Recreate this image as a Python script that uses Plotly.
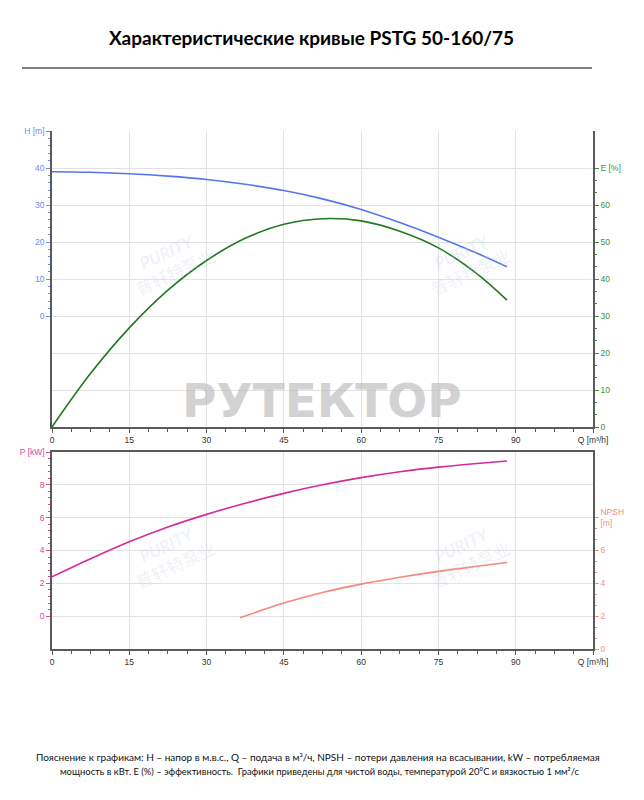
import plotly.graph_objects as go

# ---------------- data ----------------
q_he = [0, 7.5, 15, 22.5, 30, 37.5, 45, 52.5, 60, 67.5, 75, 82.5, 88.3]          # m3/h
head_m = [39.0, 38.85, 38.45, 37.8, 36.9, 35.6, 33.9, 31.65, 28.8, 25.25, 21.3, 16.95, 13.3]
eff_pct = [0, 14.5, 26.8, 37.0, 45.0, 51.0, 54.8, 56.3, 55.7, 52.9, 48.4, 41.4, 34.3]

q_p = [0, 7.5, 15, 22.5, 30, 37.5, 45, 52.5, 60, 67.5, 75, 82.5, 88.3]
power_kw = [2.4, 3.5, 4.53, 5.43, 6.2, 6.88, 7.48, 8.0, 8.44, 8.8, 9.08, 9.3, 9.45]

q_npsh = [36.5, 45, 52.5, 60, 67.5, 75, 82.5, 88.3]
npsh_m = [1.9, 2.8, 3.44, 3.95, 4.37, 4.73, 5.04, 5.27]

q_m3h_ticks = [0, 15, 30, 45, 60, 75, 90]
q_ls_ticks = [0, 5, 10, 15, 20, 25]
h_ticks = [0, 10, 20, 30, 40]
e_ticks = [0, 10, 20, 30, 40, 50, 60]
p_ticks = [0, 2, 4, 6, 8]
npsh_ticks = [0, 2, 4, 6]

Q_MAX = 105  # m3/h

title_text = "Характеристические кривые PSTG 50-160/75"
note_line1 = "Пояснение к графикам: H – напор в м.в.с., Q – подача в м³/ч, NPSH – потери давления на всасывании, kW – потребляемая"
note_line2 = "мощность в кВт. E (%) – эффективность.  Графики приведены для чистой воды, температурой 20°C и вязкостью 1 мм²/с"

# ---------------- styling ----------------
W, H = 644, 800
def px(x): return x / W
def py(y): return 1 - y / H

C_H = "#5577ee"
C_E = "#1f7a1f"
C_P = "#d42a9a"
C_N = "#f7877a"
T_H = "#6a8af0"
T_E = "#3f9140"
T_P = "#d8479f"
T_N = "#f4907f"
AX = "#5a5a5a"
GRID = "#e2e2e2"
FS = 8.5
TF = dict(family="Liberation Sans", size=FS, color="#333333")

xdom = [px(52), px(593)]
top_dom = [py(427), py(131)]
bot_dom = [py(649), py(452)]

def frange(a, b, s):
    out = []
    v = a
    while v <= b + 1e-9:
        out.append(round(v, 6))
        v += s
    return out

fig = go.Figure()
fig.add_trace(go.Scatter(x=q_he, y=head_m, mode="lines", line=dict(color=C_H, width=1.6, shape="spline"),
                         xaxis="x", yaxis="y", showlegend=False))
fig.add_trace(go.Scatter(x=q_he, y=eff_pct, mode="lines", line=dict(color=C_E, width=1.6, shape="spline"),
                         xaxis="x", yaxis="y2", showlegend=False))
fig.add_trace(go.Scatter(x=q_p, y=power_kw, mode="lines", line=dict(color=C_P, width=1.6, shape="spline"),
                         xaxis="x3", yaxis="y3", showlegend=False))
fig.add_trace(go.Scatter(x=q_npsh, y=npsh_m, mode="lines", line=dict(color=C_N, width=1.6, shape="spline"),
                         xaxis="x3", yaxis="y4", showlegend=False))

common_x = dict(range=[0, Q_MAX], tickvals=q_m3h_ticks + [Q_MAX],
                ticktext=[str(v) for v in q_m3h_ticks] + ["Q [m³/h]"],
                showgrid=True, gridcolor=GRID, gridwidth=1, zeroline=False, automargin=False,
                ticks="outside", ticklen=4, tickwidth=1, tickcolor=AX,
                showline=True, linecolor=AX, linewidth=1.5, tickfont=TF,
                minor=dict(tickmode="array", tickvals=frange(0, Q_MAX, 3.75), ticks="outside",
                           ticklen=3, tickcolor=AX, showgrid=False))

fig.update_layout(
    width=W, height=H, margin=dict(l=0, r=0, t=0, b=0, pad=0),
    paper_bgcolor="white", plot_bgcolor="white",
    xaxis=dict(domain=xdom, anchor="y", **common_x),
    xaxis2=dict(domain=xdom, anchor="y", overlaying="x", side="top", automargin=False,
                range=[0, Q_MAX / 3.6], tickvals=q_ls_ticks + [Q_MAX / 3.6],
                ticktext=[str(v) for v in q_ls_ticks] + ["Q [L/s]"],
                showgrid=False, zeroline=False, ticks="outside", ticklen=4, tickcolor=AX,
                showline=True, linecolor=AX, linewidth=1.5, tickfont=TF,
                minor=dict(tickmode="array", tickvals=frange(0, Q_MAX / 3.6, 5 / 3), ticks="outside",
                           ticklen=3, tickcolor=AX, showgrid=False)),
    yaxis=dict(domain=top_dom, anchor="x", range=[-30, 50], automargin=False,
               tickvals=h_ticks + [50], ticktext=[str(v) for v in h_ticks] + ["H [m]"],
               showgrid=False, zeroline=False, ticks="outside", ticklen=4, tickcolor=T_H,
               showline=True, linecolor=AX, linewidth=1.5, tickfont=dict(family="Liberation Sans", size=FS, color=T_H),
               minor=dict(tickmode="array", tickvals=frange(0, 50, 2), ticks="outside",
                          ticklen=2, tickcolor=T_H, showgrid=False)),
    yaxis2=dict(domain=top_dom, anchor="x", overlaying="y", side="right", range=[0, 80], automargin=False,
                tickvals=e_ticks + [70], ticktext=[str(v) for v in e_ticks] + ["E [%]"],
                showgrid=True, gridcolor=GRID, zeroline=False, ticks="outside", ticklen=4, tickcolor=T_E,
                showline=True, linecolor=AX, linewidth=1.5, tickfont=dict(family="Liberation Sans", size=FS, color=T_E),
                minor=dict(tickmode="array", tickvals=frange(0, 70, 10 / 3), ticks="outside",
                           ticklen=2, tickcolor=T_E, showgrid=False)),
    xaxis3=dict(domain=xdom, anchor="y3", mirror=True, **common_x),
    yaxis3=dict(domain=bot_dom, anchor="x3", range=[-2, 10], automargin=False,
                tickvals=p_ticks + [10], ticktext=[str(v) for v in p_ticks] + ["P [kW]"],
                showgrid=True, gridcolor=GRID, zeroline=False, ticks="outside", ticklen=4, tickcolor=T_P,
                showline=True, linecolor=AX, linewidth=1.5, tickfont=dict(family="Liberation Sans", size=FS, color=T_P),
                minor=dict(tickmode="array", tickvals=frange(0, 10, 0.4), ticks="outside",
                           ticklen=2, tickcolor=T_P, showgrid=False)),
    yaxis4=dict(domain=bot_dom, anchor="x3", overlaying="y3", side="right", range=[0, 12], automargin=False,
                tickvals=npsh_ticks + [8], ticktext=[str(v) for v in npsh_ticks] + ["NPSH<br>[m]"],
                showgrid=False, zeroline=False, ticks="outside", ticklen=4, tickcolor=T_N,
                showline=True, linecolor=AX, linewidth=1.5, tickfont=dict(family="Liberation Sans", size=FS, color=T_N),
                minor=dict(tickmode="array", tickvals=frange(0, 8, 2 / 3), ticks="outside",
                           ticklen=2, tickcolor=T_N, showgrid=False)),
)

annotations = [
    dict(text="<b>" + title_text + "</b>", x=px(311), y=py(37), xref="paper", yref="paper",
         showarrow=False, font=dict(family="Lato", size=19, color="black"), xanchor="center", yanchor="middle"),
    dict(text=note_line1, x=px(318), y=py(757), xref="paper", yref="paper", showarrow=False,
         font=dict(family="Lato", size=10, color="#111111"), xanchor="center", yanchor="middle"),
    dict(text=note_line2, x=px(320), y=py(771), xref="paper", yref="paper", showarrow=False,
         font=dict(family="Lato", size=9.4, color="#111111"), xanchor="center", yanchor="middle"),
    dict(text="<b>РУТЕКТОР</b>", x=px(322), y=py(400), xref="paper", yref="paper", showarrow=False,
         font=dict(family="DejaVu Sans", size=47, color="rgba(190,190,190,0.7)"), xanchor="center", yanchor="middle"),
]
for (cx, cy) in [(170, 262), (465, 262), (170, 555), (465, 555)]:
    annotations.append(dict(text="<b><i>PURITY</i></b><br>普轩特泵业", x=px(cx), y=py(cy), xref="paper", yref="paper",
                            showarrow=False, textangle=-25,
                            font=dict(family="Lato, Noto Sans CJK SC", size=17, color="rgba(200,210,232,0.3)"),
                            xanchor="center", yanchor="middle"))
fig.update_layout(annotations=annotations)

fig.add_shape(type="line", xref="paper", yref="paper", x0=px(22), x1=px(592), y0=py(68), y1=py(68),
              line=dict(color="black", width=1))

fig.write_html("out.html", config={"displayModeBar": False},
               post_script="document.body.style.margin='0';document.body.style.padding='0';")
